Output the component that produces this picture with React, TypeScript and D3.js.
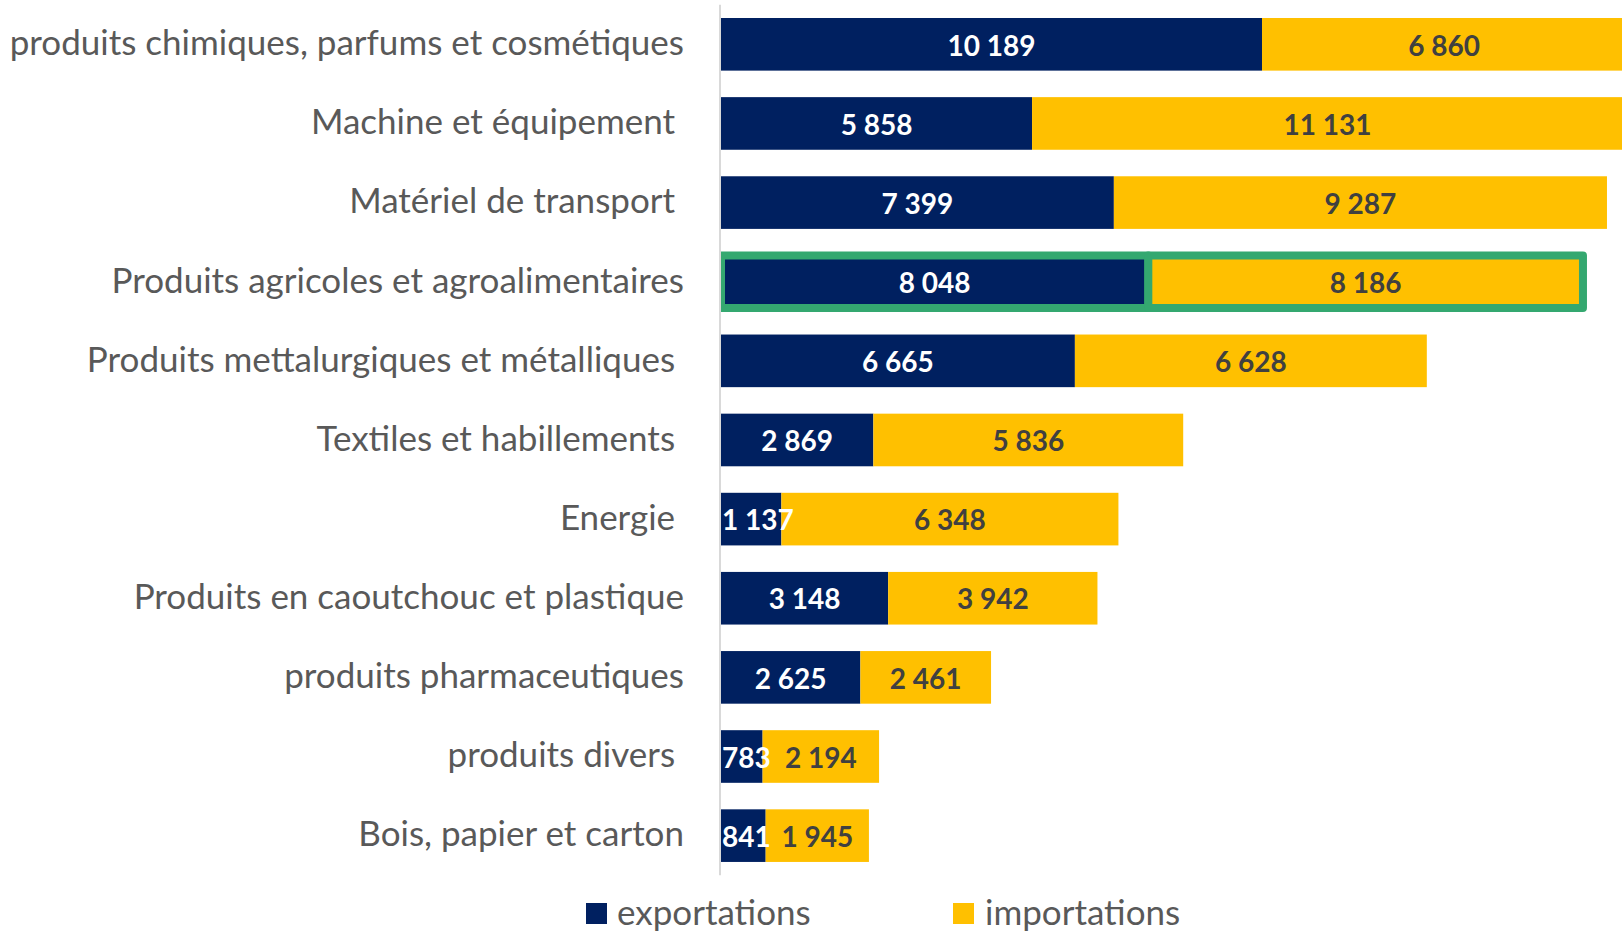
import React from "react";
import * as d3 from "d3";

const categories = [
  "produits chimiques, parfums et cosmétiques",
  "Machine et équipement ",
  "Matériel de transport ",
  "Produits agricoles et agroalimentaires",
  "Produits mettalurgiques et métalliques ",
  "Textiles et habillements ",
  "Energie ",
  "Produits en caoutchouc et plastique",
  "produits pharmaceutiques",
  "produits divers ",
  "Bois, papier et carton",
];
const exportations = [10189, 5858, 7399, 8048, 6665, 2869, 1137, 3148, 2625, 783, 841];
const importations = [6860, 11131, 9287, 8186, 6628, 5836, 6348, 3942, 2461, 2194, 1945];
const highlighted = "Produits agricoles et agroalimentaires";
const seriesNames = ["exportations", "importations"];

const W = 1622;
const H = 931;
const NAVY = "#002060";
const YELLOW = "#FFC000";
const GREEN = "#34A870";
const GRAY = "#595959";
const DARK = "#404040";
const FONT = "Lato, 'Open Sans', sans-serif";

const fmt = (v: number) => d3.format(",")(v).replace(/,/g, " ");

export default function App() {
  const x0 = 721;
  const x = d3.scaleLinear().domain([0, 10189]).range([x0, 1262]);
  const y = d3
    .scaleBand<string>()
    .domain(categories)
    .range([4.75, 875.2])
    .paddingInner(0.335)
    .paddingOuter(0.1675);
  const bh = y.bandwidth();

  return (
    <svg
      width={W}
      height={H}
      style={{ position: "absolute", left: 0, top: 0, display: "block" }}
    >
      <defs>
        <clipPath id="plotclip">
          <rect x={x0} y={0} width={W - x0} height={H} />
        </clipPath>
      </defs>
      <rect x={0} y={0} width={W} height={H} fill="#fff" />
      {/* axis line */}
      <line x1={720} x2={720} y1={y.range()[0]} y2={y.range()[1]} stroke="#D9D9D9" strokeWidth={2} />
      <g clipPath="url(#plotclip)">
        {categories.map((c, i) => {
          const e = exportations[i];
          const im = importations[i];
          const yy = y(c)!;
          const hl = c === highlighted;
          return (
            <g key={c}>
              <rect
                x={x(0)}
                y={yy}
                width={x(e) - x(0)}
                height={bh}
                fill={NAVY}
                stroke={hl ? GREEN : "none"}
                strokeWidth={hl ? 8 : 0}
                strokeLinejoin="round"
              />
              <rect
                x={x(e)}
                y={yy}
                width={x(e + im) - x(e)}
                height={bh}
                fill={YELLOW}
                stroke={hl ? GREEN : "none"}
                strokeWidth={hl ? 8 : 0}
                strokeLinejoin="round"
              />
            </g>
          );
        })}
      </g>
      {categories.map((c, i) => {
        const e = exportations[i];
        const im = importations[i];
        const cy = y(c)! + bh / 2;
        const small = x(e) - x(0) < 75;
        return (
          <g key={"l" + c} fontFamily={FONT} fontWeight={700} fontSize={28}>
            <text
              x={small ? x(0) + 1 : (x(0) + x(e)) / 2}
              y={cy + 11.2}
              textAnchor={small ? "start" : "middle"}
              fill="#fff"
            >
              {fmt(e)}
            </text>
            <text x={(x(e) + x(e + im)) / 2} y={cy + 11.2} textAnchor="middle" fill={DARK}>
              {fmt(im)}
            </text>
          </g>
        );
      })}
      {categories.map((c) => (
        <text
          key={"c" + c}
          x={684}
          y={y(c)! + bh / 2 + 10.8}
          textAnchor="end"
          fontFamily={FONT}
          fontSize={35}
          fill={GRAY}
          style={{ whiteSpace: "pre" }}
        >
          {c}
        </text>
      ))}
      {/* legend */}
      <g fontFamily={FONT} fontSize={35} fill={GRAY}>
        <rect x={586} y={903} width={21} height={21} fill={NAVY} />
        <text x={617} y={924.5}>{seriesNames[0]}</text>
        <rect x={953} y={903} width={21} height={21} fill={YELLOW} />
        <text x={985} y={924.5}>{seriesNames[1]}</text>
      </g>
    </svg>
  );
}
